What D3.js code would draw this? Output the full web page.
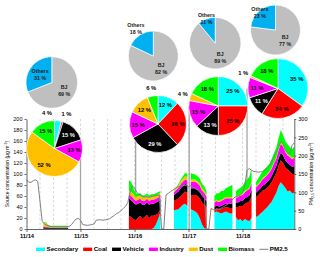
<!DOCTYPE html>
<html>
<head>
<meta charset="utf-8">
<script src="https://cdn.jsdelivr.net/npm/d3@7"></script>
<style>
  html, body { margin: 0; padding: 0; background: #fff; }
  svg { display: block; font-family: "Liberation Sans", Arial, sans-serif; }
</style>
</head>
<body>
<svg id="chart" width="320" height="257"></svg>
<script>
// 源解析类别
const sourceKeys = ["Secondary", "Coal", "Vehicle", "Industry", "Dust", "Biomass"];

// 有源解析结果的时刻（距 11/14 00:00 的小时数）
const srcHours = [
    7.5, 8.5, 9.5, 10.5, 11.5, 12.5, 13.5, 14.5, 15.5, 16.5, 17.5, 18.5,
    45.5, 46.5, 47.5, 48.5, 49.5, 50.5, 51.5, 52.5, 53.5, 54.5, 55.5, 56.5, 57.5, 58.5, 59.5,
    65.5, 66.5, 67.5, 68.5, 69.5, 70.5, 71.5,
    73, 74, 75, 76, 77, 78, 79, 80,
    83.5, 84.5, 85.5, 86.5, 87.5, 88.5, 89.5, 90.5, 91.5,
    93, 94, 95, 96, 97, 98, 99, 100,
    102, 103, 104, 105, 106, 107, 108, 109, 110, 111, 112, 113, 114, 115, 116, 117, 118, 119
];
const secondary = [
    0.4, 0.4, 0.4, 0.4, 0.4, 0.4, 0.4, 0.4, 0.4, 0.4, 0.4, 0.4,
    0, 0, 0, 0, 0, 0, 0, 0, 0, 0, 0, 2, 8, 18, 30,
    34, 35, 36, 40, 44, 46, 42,
    36, 34, 32, 28, 20, 8, 2, 0,
    30, 32, 30, 28, 30, 32, 30, 28, 28,
    22, 16, 18, 14, 18, 16, 14, 20,
    22, 24, 28, 32, 36, 40, 45, 50, 58, 66, 78, 85, 80, 75, 68, 70, 65, 66
];
const coal = [
    0.2, 0.2, 0.2, 0.2, 0.2, 0.2, 0.2, 0.2, 0.2, 0.2, 0.2, 0.2,
    24, 22, 18, 16, 20, 24, 18, 22, 26, 20, 24, 22, 18, 10, 6,
    18, 18, 20, 20, 20, 22, 24,
    26, 28, 30, 32, 36, 40, 42, 40,
    5, 6, 6, 8, 8, 8, 9, 10, 10,
    18, 24, 24, 28, 28, 32, 36, 40,
    36, 38, 38, 38, 36, 36, 35, 36, 36, 36, 37, 40, 40, 37, 40, 35, 35, 34
];
const vehicle = [
    2.5, 2, 1.5, 1, 1, 1, 1, 1, 1, 1, 1, 1,
    32, 30, 30, 28, 26, 24, 26, 22, 22, 24, 22, 22, 22, 22, 20,
    10, 12, 12, 14, 14, 14, 14,
    12, 12, 12, 12, 12, 12, 12, 10,
    5, 5, 5, 6, 6, 6, 7, 8, 8,
    8, 8, 9, 9, 10, 10, 11, 11,
    8, 8, 8, 9, 10, 10, 10, 11, 12, 12, 13, 14, 14, 13, 12, 12, 13, 14
];
const industry = [
    1.5, 2, 1.5, 1, 1, 1, 1, 1, 1, 1, 1, 1,
    8, 8, 8, 7, 7, 7, 7, 7, 7, 7, 7, 7, 7, 7, 6,
    5, 6, 7, 8, 8, 8, 8,
    12, 12, 12, 11, 11, 10, 10, 9,
    8, 8, 8, 9, 9, 10, 10, 10, 10,
    9, 10, 10, 11, 11, 12, 12, 12,
    10, 10, 11, 12, 12, 12, 13, 13, 14, 14, 15, 16, 16, 15, 14, 14, 14, 16
];
const dust = [
    6, 7, 2, 1, 1, 1, 1, 1, 1, 1, 1, 1,
    6, 7, 8, 7, 6, 6, 6, 6, 6, 6, 6, 6, 6, 6, 4,
    2, 3, 4, 5, 6, 6, 6,
    4, 4, 4, 4, 4, 4, 4, 3,
    2, 2, 2, 2, 2, 2, 2, 2, 2,
    2, 2, 2, 2, 2, 2, 2, 2,
    2, 2, 2, 2, 2, 2, 2, 2, 2, 2, 2, 3, 3, 2, 2, 2, 2, 2
];
const biomass = [
    1, 1, 2, 2.5, 2.5, 2.5, 2.5, 2.5, 2.5, 2.5, 2.5, 2.5,
    18, 19, 11, 7, 5, 4, 4, 4, 4, 4, 4, 4, 4, 4, 3,
    1, 2, 3, 3, 4, 6, 6,
    12, 10, 9, 9, 9, 8, 8, 6,
    10, 12, 14, 16, 14, 16, 18, 20, 22,
    10, 12, 12, 14, 16, 18, 20, 25,
    8, 10, 12, 12, 14, 14, 14, 16, 16, 18, 20, 22, 18, 18, 18, 16, 16, 18
];

// PM2.5 逐小时浓度（11/14 00:00 起）
const pm25 = [
    134, 128, 127, 132, 134, 130, 75, 20, 14, 10, 8, 6, 6, 6, 6, 6, 6, 6, 6, 7, 12, 20, 27, 29,
    24, 12, 11, 10, 11, 12, 14, 24, 25, 25, 24, 25, 26, 28, 33, 37, 42, 45, 50, 56, 62, 72, 100, 118,
    112, 100, 94, 92, 88, 88, 87, 88, 89, 90, 92, 93, 0, 0, 93, 97, 102, 106, 110, 114, 116, 118, 120, 118,
    115, 118, 114, 110, 106, 100, 96, 92, 0, 0, 56, 53, 52, 53, 55, 58, 62, 66, 70, 76, 84, 88,
    90, 92, 100, 118, 160, 165, 160, 157, 156, 155, 156, 157, 162, 166, 172, 184, 198, 210, 222, 238, 232, 215, 210, 205, 228, 235
];

const dayHours = [0, 24, 48, 72, 96];
const dayLabels = ["11/14", "11/15", "11/16", "11/17", "11/18"];
const leftTicks = [0, 20, 40, 60, 80, 100, 120, 140, 160, 180, 200];
const rightTicks = [0, 50, 100, 150, 200, 250, 300];

// 各时段源贡献饼图（%）
const sourcePie1 = [4, 1, 15, 13, 52, 15];
const sourcePie2 = [12, 26, 29, 15, 12, 6];
const sourcePie3 = [25, 25, 13, 15, 4, 18];
const sourcePie4 = [35, 24, 11, 11, 1, 18];

// 区域贡献饼图（%）
const regionKeys = ["BJ", "Others"];
const regionPie1 = [69, 31];
const regionPie2 = [82, 18];
const regionPie3 = [89, 11];
const regionPie4 = [77, 23];

const colors = {
    Secondary: "#00ffff", Coal: "#ff0000", Vehicle: "#000000",
    Industry: "#ff00ff", Dust: "#ffc000", Biomass: "#00ff00"
};
const regionColors = { BJ: "#bfbfbf", Others: "#00b0f0" };

// 饼图位置（布局）
const sourcePieLayout = [
    { cx: 54.5, cy: 148.5, r: 28, hour: 24, nudge: [-12, 2] },
    { cx: 158, cy: 124, r: 28.5, hour: 48.5, nudge: [0] },
    { cx: 218.3, cy: 106, r: 29.5, hour: 72.3, nudge: [0] },
    { cx: 278, cy: 88.5, r: 30, hour: 98, nudge: [0] }
];
const regionPieLayout = [
    { cx: 51.8, cy: 82.5, r: 25.8, otherR: 0.55 },
    { cx: 153.3, cy: 56, r: 25, otherR: 1.3 },
    { cx: 215.2, cy: 43.2, r: 25.8, otherR: 1.0 },
    { cx: 275.5, cy: 30, r: 25, otherR: 0.95 }
];

const svg = d3.select("#chart");

const x = d3.scaleLinear().domain([0, 119]).range([26.5, 294.3]);
const yL = d3.scaleLinear().domain([0, 200]).range([229, 119]);
const yR = d3.scaleLinear().domain([0, 300]).range([229, 119]);

// 6 小时虚线网格
svg.append("g")
    .selectAll("line")
    .data(d3.range(6, 119, 6))
    .join("line")
    .attr("x1", d => x(d)).attr("x2", d => x(d))
    .attr("y1", 119).attr("y2", 229)
    .attr("stroke", "#c8c8c8")
    .attr("stroke-width", 0.7)
    .attr("stroke-dasharray", "2.5,2");

// 饼图连线
svg.append("g")
    .selectAll("line")
    .data(sourcePieLayout)
    .join("line")
    .attr("x1", d => x(d.hour)).attr("x2", d => x(d.hour))
    .attr("y1", 229).attr("y2", d => d.cy)
    .attr("stroke", "#a6a6a6")
    .attr("stroke-width", 1.3);

// 堆积面积
const rows = srcHours.map((h, i) => ({
    h,
    Secondary: secondary[i], Coal: coal[i], Vehicle: vehicle[i],
    Industry: industry[i], Dust: dust[i], Biomass: biomass[i]
}));
const stacked = d3.stack().keys(sourceKeys)(rows);

// 间隔超过 1 小时就断开
const segments = [];
let segStart = 0;
for (let i = 1; i <= srcHours.length; i++) {
    if (i === srcHours.length || srcHours[i] - srcHours[i - 1] > 1.01) {
        segments.push([segStart, i]);
        segStart = i;
    }
}

const area = d3.area()
    .x(d => x(d.data.h))
    .y0(d => yL(d[0]))
    .y1(d => yL(d[1]));

const areaG = svg.append("g");
stacked.forEach(layer => {
    segments.forEach(([a, b]) => {
        areaG.append("path")
            .attr("d", area(layer.slice(a, b)))
            .attr("fill", colors[layer.key]);
    });
});

// PM2.5 曲线
const pmLine = d3.line()
    .x((d, i) => x(i))
    .y(d => yR(d));

svg.append("path")
    .attr("d", pmLine(pm25))
    .attr("fill", "none")
    .attr("stroke", "#808080")
    .attr("stroke-width", 1);

// 坐标轴
function styleAxis(g, size) {
    g.select(".domain").attr("stroke", "#404040").attr("stroke-width", 0.8);
    g.selectAll(".tick line").attr("stroke", "#404040").attr("stroke-width", 0.8);
    g.selectAll(".tick text").attr("font-size", size).attr("fill", "#000");
}

svg.append("g")
    .attr("transform", "translate(0,229)")
    .call(d3.axisBottom(x).tickValues(dayHours).tickFormat((d, i) => dayLabels[i])
        .tickSize(3).tickSizeOuter(0).tickPadding(2))
    .call(g => styleAxis(g, 5.8))
    .call(g => g.selectAll(".tick text").attr("font-weight", "bold"));

svg.append("g")
    .attr("transform", "translate(26.5,0)")
    .call(d3.axisLeft(yL).tickValues(leftTicks).tickSize(2).tickSizeOuter(0).tickPadding(2))
    .call(g => styleAxis(g, 5.5));

svg.append("g")
    .attr("transform", "translate(294.3,0)")
    .call(d3.axisRight(yR).tickValues(rightTicks).tickSize(2).tickSizeOuter(0).tickPadding(2))
    .call(g => styleAxis(g, 5.5));

// 坐标轴标题
const leftTitle = svg.append("text")
    .attr("transform", "translate(9,174) rotate(-90)")
    .attr("text-anchor", "middle")
    .attr("font-size", 5);
leftTitle.append("tspan").text("Source concentration (μg m");
leftTitle.append("tspan").attr("dy", -1.8).attr("font-size", 3.6).text("-3");
leftTitle.append("tspan").attr("dy", 1.8).text(")");

const rightTitle = svg.append("text")
    .attr("transform", "translate(313,174) rotate(-90)")
    .attr("text-anchor", "middle")
    .attr("font-size", 5);
rightTitle.append("tspan").text("PM");
rightTitle.append("tspan").attr("dy", 1.3).attr("font-size", 3.6).text("2.5");
rightTitle.append("tspan").attr("dy", -1.3).text(" concentration (μg m");
rightTitle.append("tspan").attr("dy", -1.8).attr("font-size", 3.6).text("-3");
rightTitle.append("tspan").attr("dy", 1.8).text(")");

// 饼图
const pie = d3.pie().sort(null).value(d => d);

function drawSourcePie(shares, lay) {
    const g = svg.append("g").attr("transform", `translate(${lay.cx},${lay.cy})`);
    const arc = d3.arc().innerRadius(0).outerRadius(lay.r);
    const labelArc = d3.arc().innerRadius(lay.r * 0.7).outerRadius(lay.r * 0.7);
    const outArc = d3.arc().innerRadius(lay.r + 8).outerRadius(lay.r + 8);
    const arcs = pie(shares);

    g.selectAll("path")
        .data(arcs)
        .join("path")
        .attr("d", arc)
        .attr("fill", (d, i) => colors[sourceKeys[i]])
        .attr("stroke", "#fff")
        .attr("stroke-width", 0.7);

    let outside = 0;
    arcs.forEach((d, i) => {
        let pos;
        if (d.data < 8) {
            pos = outArc.centroid(d);
            pos[0] += lay.nudge[outside] || 0;
            outside++;
        } else {
            pos = labelArc.centroid(d);
        }
        g.append("text")
            .attr("x", pos[0]).attr("y", pos[1])
            .attr("dy", "0.35em")
            .attr("text-anchor", "middle")
            .attr("font-size", 5.8)
            .attr("font-weight", "bold")
            .attr("fill", sourceKeys[i] === "Vehicle" ? "#fff" : "#000")
            .text(d.data + " %");
    });
}

function drawRegionPie(shares, lay) {
    const g = svg.append("g").attr("transform", `translate(${lay.cx},${lay.cy})`);
    const arc = d3.arc().innerRadius(0).outerRadius(lay.r);
    const arcs = pie(shares);

    g.selectAll("path")
        .data(arcs)
        .join("path")
        .attr("d", arc)
        .attr("fill", (d, i) => regionColors[regionKeys[i]])
        .attr("stroke", "#fff")
        .attr("stroke-width", 0.7);

    arcs.forEach((d, i) => {
        const k = regionKeys[i] === "Others" ? lay.otherR : 0.58;
        const lr = lay.r * k;
        const pos = d3.arc().innerRadius(lr).outerRadius(lr).centroid(d);
        const t = g.append("text")
            .attr("text-anchor", "middle")
            .attr("font-size", 5.3)
            .attr("font-weight", "bold")
            .attr("fill", "#1a1a1a");
        t.append("tspan").attr("x", pos[0]).attr("y", pos[1] - 1.5).text(regionKeys[i]);
        t.append("tspan").attr("x", pos[0]).attr("y", pos[1] + 5.5).text(d.data + " %");
    });
}

[sourcePie1, sourcePie2, sourcePie3, sourcePie4].forEach((s, i) => drawSourcePie(s, sourcePieLayout[i]));
[regionPie1, regionPie2, regionPie3, regionPie4].forEach((s, i) => drawRegionPie(s, regionPieLayout[i]));

// 图例
const legend = svg.append("g")
    .attr("font-size", 6.2)
    .attr("font-weight", "bold");
let lx = 36;
sourceKeys.concat(["PM2.5"]).forEach(key => {
    if (key === "PM2.5") {
        legend.append("line")
            .attr("x1", lx).attr("x2", lx + 9)
            .attr("y1", 249.3).attr("y2", 249.3)
            .attr("stroke", "#808080").attr("stroke-width", 1);
    } else {
        legend.append("rect")
            .attr("x", lx).attr("y", 247.6)
            .attr("width", 9).attr("height", 3.4)
            .attr("fill", colors[key]);
    }
    const t = legend.append("text")
        .attr("x", lx + 10.5).attr("y", 249.3)
        .attr("dy", "0.35em")
        .text(key);
    lx += 10.5 + t.node().getComputedTextLength() + 5;
});
</script>
</body>
</html>
